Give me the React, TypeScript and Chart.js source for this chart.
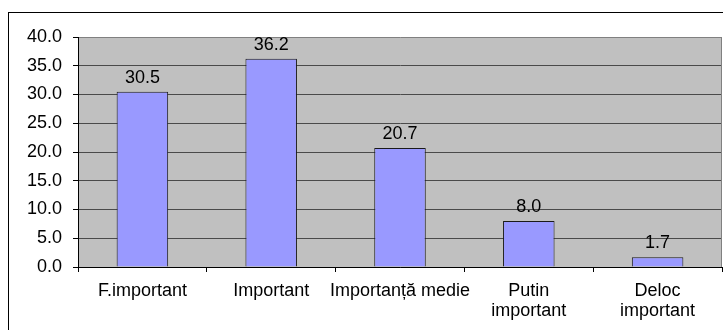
import React, { useEffect, useRef } from "react";
import { Chart, registerables } from "chart.js";

Chart.register(...registerables);

const categories: (string | string[])[] = [
  "F.important",
  "Important",
  "Importanță medie",
  ["Putin", "important"],
  ["Deloc", "important"],
];
const values: number[] = [30.5, 36.2, 20.7, 8.0, 1.7];
const yTicks = { min: 0, max: 40, step: 5 };

const FONT = "'Liberation Sans', Arial, sans-serif";
const FS = 18;

export default function App() {
  const ref = useRef<HTMLCanvasElement | null>(null);

  useEffect(() => {
    const canvas = ref.current;
    if (!canvas) return;

    const bgPlugin = {
      id: "bg",
      beforeDraw(chart: any) {
        const { ctx, chartArea } = chart;
        ctx.save();
        ctx.fillStyle = "#ffffff";
        ctx.fillRect(0, 0, chart.width, chart.height);
        ctx.fillStyle = "#C0C0C0";
        ctx.fillRect(chartArea.left, chartArea.top, chartArea.right - chartArea.left, chartArea.bottom - chartArea.top);
        ctx.restore();
      },
      afterDraw(chart: any) {
        const { ctx, chartArea } = chart;
        ctx.save();
        ctx.strokeStyle = "#808080";
        ctx.lineWidth = 1;
        ctx.beginPath();
        ctx.moveTo(Math.round(chartArea.right) - 0.5, chartArea.top);
        ctx.lineTo(Math.round(chartArea.right) - 0.5, chartArea.bottom);
        ctx.stroke();
        ctx.strokeStyle = "#000000";
        ctx.strokeRect(0.5, 0.5, chart.width - 1, chart.height - 1);
        ctx.restore();
      },
    };

    const labelPlugin = {
      id: "barLabels",
      afterDatasetsDraw(chart: any) {
        const { ctx } = chart;
        const meta = chart.getDatasetMeta(0);
        ctx.save();
        ctx.fillStyle = "#000000";
        ctx.font = `${FS}px ${FONT}`;
        ctx.textAlign = "center";
        ctx.textBaseline = "alphabetic";
        meta.data.forEach((bar: any, i: number) => {
          ctx.fillText(values[i].toFixed(1), bar.x, bar.y - 9);
        });
        ctx.restore();
      },
    };

    const chart = new Chart(canvas, {
      type: "bar",
      data: {
        labels: categories as any,
        datasets: [
          {
            data: values,
            backgroundColor: "#9999FF",
            borderColor: "#1a1a1a",
            borderWidth: 1,
            barPercentage: 0.4,
            categoryPercentage: 1,
          },
        ],
      },
      options: {
        responsive: false,
        animation: false,
        layout: { padding: { top: 25, right: 16, left: 0, bottom: 0 } },
        plugins: {
          legend: { display: false },
          tooltip: { enabled: false },
        },
        scales: {
          x: {
            offset: true,
            grid: {
              offset: true,
              drawOnChartArea: false,
              drawTicks: true,
              tickLength: 5,
              color: "#000000",
            },
            border: { color: "#000000", width: 1 },
            ticks: {
              autoSkip: false,
              maxRotation: 0,
              minRotation: 0,
              padding: 9,
              color: "#000000",
              font: { family: FONT, size: FS, lineHeight: 1.1 },
            },
            afterFit(scale: any) {
              scale.height = 70;
            },
          },
          y: {
            min: yTicks.min,
            max: yTicks.max,
            grid: {
              color: (c: any) => (c.tick && c.tick.value === yTicks.max ? "#808080" : "#4a4a4a"),
              tickColor: "#000000",
              tickLength: 5,
            },
            border: { color: "#000000", width: 1 },
            ticks: {
              stepSize: yTicks.step,
              padding: 11,
              color: "#000000",
              font: { family: FONT, size: FS },
              callback: (v: any) => Number(v).toFixed(1),
            },
            afterFit(scale: any) {
              scale.width = 70;
            },
          },
        },
      },
      plugins: [bgPlugin, labelPlugin],
    });

    return () => chart.destroy();
  }, []);

  return (
    <div
      style={{
        position: "fixed",
        left: 8,
        top: 12,
        width: 715,
        height: 318,
        overflow: "hidden",
      }}
    >
      <canvas ref={ref} width={730} height={325} style={{ display: "block" }} />
    </div>
  );
}
